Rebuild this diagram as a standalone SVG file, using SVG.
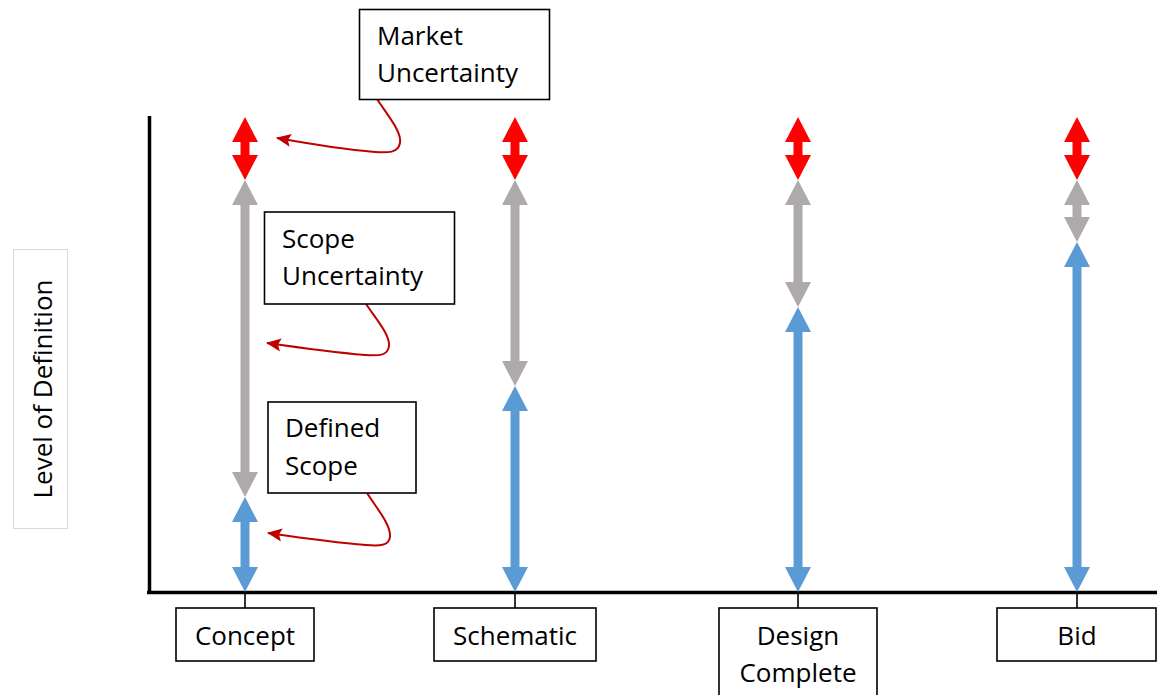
<svg xmlns="http://www.w3.org/2000/svg" width="1157" height="695" viewBox="0 0 1157 695">
<defs>
<style>
.box{fill:#fff;stroke:#000;stroke-width:1.6}
.t{font-family:"Open Sans","Liberation Sans",sans-serif;font-size:26px;fill:#000}
.c{text-anchor:middle}
.red{fill:#FF0000}
.gray{fill:#AEAAAA}
.blue{fill:#5B9BD5}
.axis{stroke:#000;stroke-width:3.5;fill:none}
.tick{stroke:#000;stroke-width:1.6;fill:none}
.call{stroke:#C00000;stroke-width:2;fill:none;marker-end:url(#ah)}
</style>
<marker id="ah" markerUnits="userSpaceOnUse" markerWidth="16" markerHeight="14" refX="14" refY="7" orient="auto">
<path d="M0,0.5 L15,7 L0,13.5 L3,7 Z" fill="#C00000"/>
</marker>
</defs>
<rect width="1157" height="695" fill="#fff"/>

<g id="axes">
<line class="axis" x1="149.5" y1="116" x2="149.5" y2="594"/>
<line class="axis" x1="147" y1="592.5" x2="1157" y2="592.5"/>
<line class="tick" x1="245" y1="592" x2="245" y2="608"/>
<line class="tick" x1="515" y1="592" x2="515" y2="608"/>
<line class="tick" x1="798" y1="592" x2="798" y2="608"/>
<line class="tick" x1="1077" y1="592" x2="1077" y2="608"/>
</g>

<g id="ylabel">
<rect x="13.5" y="249.5" width="54" height="279" fill="#fff" stroke="#d9d9d9" stroke-width="1"/>
<text class="t c" transform="translate(51.5,389) rotate(-90)">Level of Definition</text>
</g>

<g id="connectors">
<!-- Concept -->
<polygon class="red" points="245,117 258,142 249.5,142 249.5,155 258,155 245,180 232,155 240.5,155 240.5,142 232,142"/>
<polygon class="gray" points="245,180 258,205 249.5,205 249.5,472 258,472 245,497 232,472 240.5,472 240.5,205 232,205"/>
<polygon class="blue" points="245,497 258,522 249.5,522 249.5,567 258,567 245,592 232,567 240.5,567 240.5,522 232,522"/>
<!-- Schematic -->
<polygon class="red" points="515,117 528,142 519.5,142 519.5,155 528,155 515,180 502,155 510.5,155 510.5,142 502,142"/>
<polygon class="gray" points="515,180 528,205 519.5,205 519.5,361 528,361 515,386 502,361 510.5,361 510.5,205 502,205"/>
<polygon class="blue" points="515,386 528,411 519.5,411 519.5,567 528,567 515,592 502,567 510.5,567 510.5,411 502,411"/>
<!-- Design Complete -->
<polygon class="red" points="798,117 811,142 802.5,142 802.5,155 811,155 798,180 785,155 793.5,155 793.5,142 785,142"/>
<polygon class="gray" points="798,180 811,205 802.5,205 802.5,282 811,282 798,307 785,282 793.5,282 793.5,205 785,205"/>
<polygon class="blue" points="798,307 811,332 802.5,332 802.5,567 811,567 798,592 785,567 793.5,567 793.5,332 785,332"/>
<!-- Bid -->
<polygon class="red" points="1077,117 1090,142 1081.5,142 1081.5,155 1090,155 1077,180 1064,155 1072.5,155 1072.5,142 1064,142"/>
<polygon class="gray" points="1077,180 1090,205 1081.5,205 1081.5,217 1090,217 1077,242 1064,217 1072.5,217 1072.5,205 1064,205"/>
<polygon class="blue" points="1077,242 1090,267 1081.5,267 1081.5,567 1090,567 1077,592 1064,567 1072.5,567 1072.5,267 1064,267"/>
<!-- callout arrows -->
<path class="call" d="M377,99 C388,116 402,132 400,143 C398,153 388,153 375,152 C340,149 305,143 277,138"/>
<path class="call" d="M366,304 C377,320 390,335 389,346 C388,356 378,356 365,355 C330,352 295,347 267,343"/>
<path class="call" d="M367,493 C378,510 391,525 390,537 C389,546 379,546 366,545 C330,542 296,537 268,533"/>
</g>

<g id="market">
<rect class="box" x="359.5" y="9.5" width="190" height="90"/>
<text class="t" x="377" y="45">Market</text>
<text class="t" x="377" y="82">Uncertainty</text>
</g>

<g id="scope">
<rect class="box" x="264.5" y="212" width="190" height="92"/>
<text class="t" x="282" y="248">Scope</text>
<text class="t" x="282" y="285">Uncertainty</text>
</g>

<g id="defined">
<rect class="box" x="268" y="402" width="148" height="91"/>
<text class="t" x="285" y="437">Defined</text>
<text class="t" x="285" y="475">Scope</text>
</g>

<g id="concept">
<rect class="box" x="176" y="608" width="138" height="53"/>
<text class="t c" x="245" y="645">Concept</text>
</g>

<g id="schematic">
<rect class="box" x="434" y="608" width="162" height="53"/>
<text class="t c" x="515" y="645">Schematic</text>
</g>

<g id="design">
<rect class="box" x="719" y="608" width="158" height="100"/>
<text class="t c" x="798" y="645">Design</text>
<text class="t c" x="798" y="682">Complete</text>
</g>

<g id="bid">
<rect class="box" x="997" y="608" width="159" height="53"/>
<text class="t c" x="1077" y="645">Bid</text>
</g>
</svg>
